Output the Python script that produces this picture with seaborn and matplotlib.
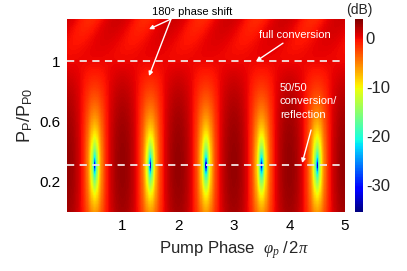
import numpy as np
import pandas as pd
import matplotlib

matplotlib.use("Agg")
import matplotlib.pyplot as plt
import seaborn as sns

# axis ranges
phase_max = 5.0          # pump phase / 2pi
power_max = 1.28         # P_P / P_P0

# model parameters
balance_power = 0.31     # 50/50 conversion / reflection line
full_power = 1.0         # full conversion line
growth_above_full = 0.45
slant_above_full = 1.5
db_limits = [-35.5, 3.8]

x_ticks = [1, 2, 3, 4, 5]
x_tick_labels = ["1", "2", "3", "4", "5"]
y_ticks = [0.2, 0.6, 1.0]
y_tick_labels = ["0.2", "0.6", "1"]
cbar_ticks = [0, -10, -20, -30]
cbar_tick_labels = ["0", "-10", "-20", "-30"]

nx, ny = 500, 256

sns.set_style("white")
plt.rcParams["font.family"] = ["Liberation Sans", "DejaVu Sans"]
plt.rcParams["mathtext.fontset"] = "custom"
plt.rcParams["mathtext.rm"] = "Liberation Sans"
plt.rcParams["mathtext.it"] = "Liberation Serif:italic"
plt.rcParams["axes.unicode_minus"] = False

# transmission map: interference of reflected and converted paths
phases = (np.arange(nx) + 0.5) * phase_max / nx
powers = (np.arange(ny) + 0.5) * power_max / ny
X, P = np.meshgrid(phases, powers)
slope = (np.pi / 2) / (full_power - balance_power)
two_theta = np.pi / 2 + slope * (P - balance_power)
two_theta = np.where(P > full_power,
                     np.pi + growth_above_full * slope * (P - full_power), two_theta)
shift = slant_above_full * np.clip(P - full_power, 0, None)
power_ratio = 1 + np.sin(two_theta) * np.cos(2 * np.pi * (X - shift))
db = 10 * np.log10(np.maximum(power_ratio, 1e-5))
df = pd.DataFrame(db, index=powers, columns=phases)


def ix(v):
    return v / phase_max * nx


def iy(v):
    return v / power_max * ny


fig = plt.figure(figsize=(4.07, 2.71), dpi=100)
ax = fig.add_axes([0.1646, 0.2177, 0.683, 0.712])
cax = fig.add_axes([0.872, 0.2177, 0.02, 0.712])

sns.heatmap(df, ax=ax, cbar_ax=cax, cmap="jet", vmin=db_limits[0], vmax=db_limits[1],
            xticklabels=False, yticklabels=False, rasterized=True)
ax.set_ylim(0, ny)
ax.set_xlim(0, nx)

ax.set_xticks([ix(v) for v in x_ticks])
ax.set_xticklabels(x_tick_labels, fontsize=11)
ax.set_yticks([iy(v) for v in y_ticks])
ax.set_yticklabels(y_tick_labels, fontsize=11)
ax.tick_params(axis="both", direction="out", length=3, width=0.8, pad=2, colors="black")
ax.set_xlabel(r"Pump Phase  $\varphi_p\;/\,2\pi$", fontsize=12)
ax.xaxis.set_label_coords(0.6, -0.14)
ax.set_ylabel(r"P$_\mathrm{P}$/P$_\mathrm{P0}$", fontsize=13, labelpad=3)

# dashed guide lines
for p in [full_power, balance_power]:
    ax.axhline(iy(p), color="#f2e4e4", lw=1.3, dashes=(4, 3))

arrow = dict(arrowstyle="-|>", color="white", lw=1.0, mutation_scale=6,
             shrinkA=0, shrinkB=0)
ax.text(ix(2.25), iy(1.33), "180° phase shift", fontsize=8, ha="center",
        va="center", color="black", clip_on=False)
for tip in [(1.475, 1.213), (1.475, 0.902)]:
    ax.annotate("", xy=(ix(tip[0]), iy(tip[1])), xytext=(ix(1.87), iy(1.28)),
                arrowprops=arrow, annotation_clip=False)

ax.text(ix(4.10), iy(1.174), "full conversion", fontsize=8, ha="center",
        va="center", color="white")
ax.annotate("", xy=(ix(3.40), iy(1.0)), xytext=(ix(3.885), iy(1.12)), arrowprops=arrow)

ax.text(ix(3.83), iy(0.855), "50/50\nconversion/\nreflection", fontsize=8,
        ha="left", va="top", color="white", linespacing=1.4)
ax.annotate("", xy=(ix(4.23), iy(0.325)), xytext=(ix(4.39), iy(0.544)), arrowprops=arrow)

cbar = ax.collections[0].colorbar
cbar.outline.set_visible(False)
cbar.set_ticks(cbar_ticks)
cbar.set_ticklabels(cbar_tick_labels)
cax.tick_params(labelsize=12, length=0, pad=2)
cax.text(0.6, 1.01, "(dB)", transform=cax.transAxes, fontsize=10, ha="center",
         va="bottom")

fig.savefig("out.png", dpi=100)
